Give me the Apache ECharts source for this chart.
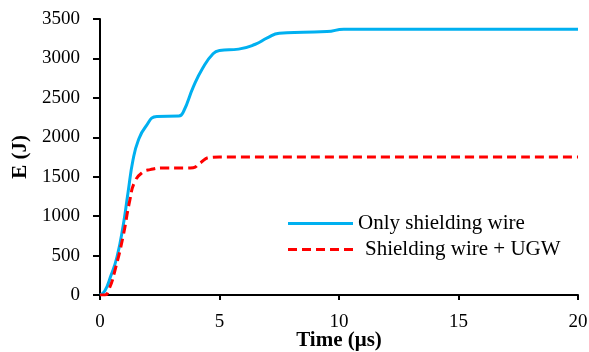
<!DOCTYPE html>
<html>
<head>
<meta charset="utf-8">
<script src="https://cdn.jsdelivr.net/npm/echarts@6/dist/echarts.min.js"></script>
<style>html,body{margin:0;padding:0;background:#fff}#c{width:589px;height:352px}</style>
</head>
<body>
<div id="c"></div>
<script>
const seriesNames = ['Only shielding wire', 'Shielding wire + UGW'];
const blueT = [0, 0.2, 0.45, 0.71, 0.96, 1.17, 1.38, 1.6, 1.9, 2.38, 3.3, 3.5, 3.9, 4.3, 4.73, 5.0, 5.8, 6.5, 7.0, 7.5, 8.5, 9.5, 10.2, 12, 20];
const blueE = [0, 50, 240, 482, 862, 1293, 1711, 1960, 2130, 2265, 2269, 2330, 2636, 2880, 3060, 3100, 3118, 3180, 3260, 3320, 3333, 3340, 3371, 3371, 3371];
const redT = [0, 0.2, 0.4, 0.63, 0.96, 1.25, 1.46, 1.8, 2.1, 2.6, 3.5, 3.9, 4.18, 4.6, 5, 20];
const redE = [0, 0, 90, 317, 735, 1204, 1440, 1559, 1590, 1610, 1610, 1615, 1673, 1745, 1750, 1750];
const xTitle = 'Time (μs)';
const yTitle = 'E (J)';

const font = 'Liberation Serif, Times New Roman, serif';
const chart = echarts.init(document.getElementById('c'));
chart.setOption({
  animation: false,
  backgroundColor: '#fff',
  grid: {left: 100, right: 11, top: 19, bottom: 57, outerBoundsMode: 'none', containLabel: false},
  legend: {
    orient: 'vertical', left: 288, top: 213, padding: 0, itemWidth: 65, itemHeight: 14, itemGap: 5,
    textStyle: {fontFamily: font, fontSize: 21, lineHeight: 21, color: '#000'},
    data: [
      {name: seriesNames[0], icon: 'path://M0,0L65,0L65,3L0,3Z'},
      {name: seriesNames[1], icon: 'path://M0,0L9,0L9,3L0,3ZM14,0L23,0L23,3L14,3ZM28,0L37,0L37,3L28,3ZM42,0L51,0L51,3L42,3ZM56,0L65,0L65,3L56,3Z', textStyle: {padding: [0, 0, 0, 7]}}
    ]
  },
  xAxis: {
    type: 'value', min: 0, max: 20, interval: 5,
    name: xTitle, nameLocation: 'middle', nameGap: 35, nameMoveOverlap: false,
    nameTextStyle: {fontFamily: font, fontSize: 21, fontWeight: 'bold', color: '#000'},
    axisLine: {lineStyle: {color: '#000', width: 2}},
    axisTick: {show: true, length: 5, lineStyle: {color: '#000', width: 2}},
    axisLabel: {fontFamily: font, fontSize: 19, color: '#000', margin: 18},
    splitLine: {show: false}
  },
  yAxis: {
    type: 'value', min: 0, max: 3500, interval: 500,
    name: yTitle, nameLocation: 'middle', nameGap: 69, nameRotate: 90, nameMoveOverlap: false,
    nameTextStyle: {fontFamily: font, fontSize: 21, fontWeight: 'bold', color: '#000'},
    axisLine: {show: true, lineStyle: {color: '#000', width: 2}},
    axisTick: {show: true, length: 7, lineStyle: {color: '#000', width: 2}},
    axisLabel: {fontFamily: font, fontSize: 19, color: '#000', margin: 20, formatter: v => String(v)},
    splitLine: {show: false}
  },
  series: [
    {
      name: seriesNames[0], type: 'line', showSymbol: false, smooth: 0.5,
      color: '#00B0F0', lineStyle: {width: 3, color: '#00B0F0'},
      data: blueT.map((t, i) => [t, blueE[i]])
    },
    {
      name: seriesNames[1], type: 'line', showSymbol: false, smooth: 0.5,
      color: '#FF0000', lineStyle: {width: 3, color: '#FF0000', type: [9, 5]},
      data: redT.map((t, i) => [t, redE[i]])
    }
  ]
});
</script>
</body>
</html>
